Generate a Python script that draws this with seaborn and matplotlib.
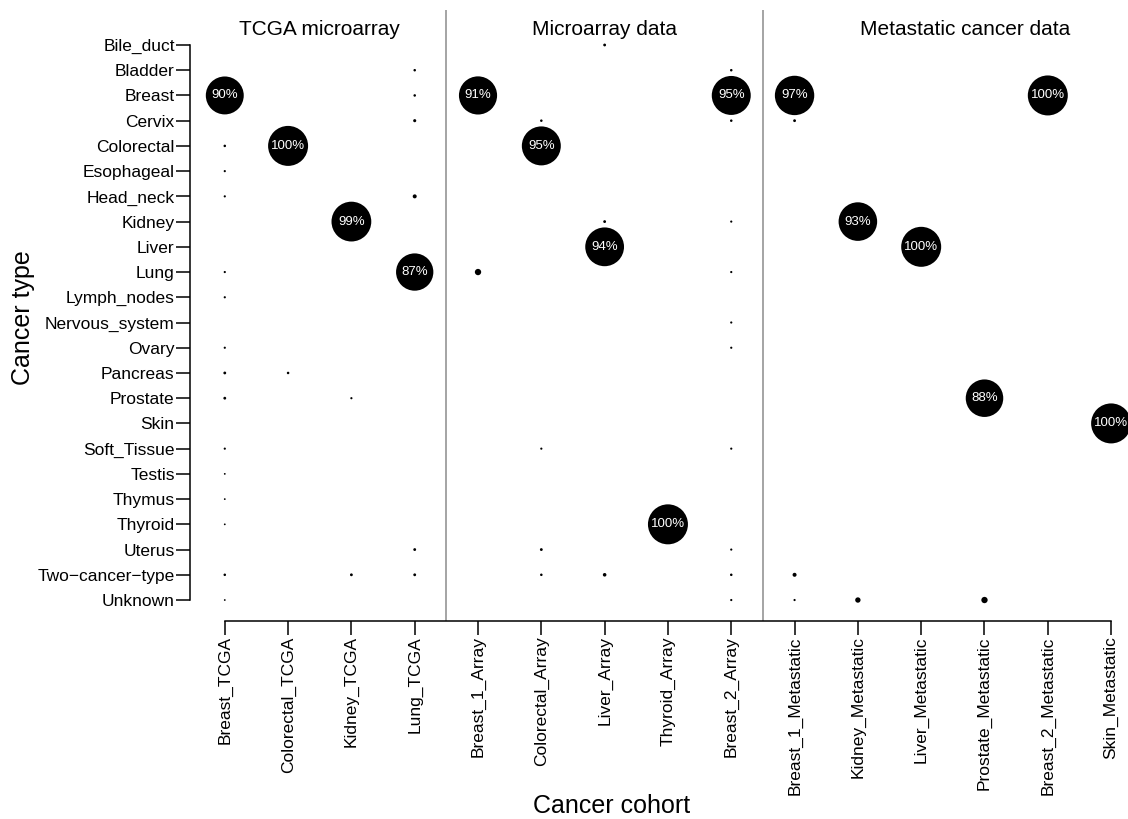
import matplotlib
matplotlib.use("Agg")
import matplotlib.pyplot as plt
import seaborn as sns
import pandas as pd

# categories
cohorts = ["Breast_TCGA", "Colorectal_TCGA", "Kidney_TCGA", "Lung_TCGA",
           "Breast_1_Array", "Colorectal_Array", "Liver_Array", "Thyroid_Array", "Breast_2_Array",
           "Breast_1_Metastatic", "Kidney_Metastatic", "Liver_Metastatic",
           "Prostate_Metastatic", "Breast_2_Metastatic", "Skin_Metastatic"]
cancer_types = ["Bile_duct", "Bladder", "Breast", "Cervix", "Colorectal", "Esophageal",
                "Head_neck", "Kidney", "Liver", "Lung", "Lymph_nodes", "Nervous_system",
                "Ovary", "Pancreas", "Prostate", "Skin", "Soft_Tissue", "Testis", "Thymus",
                "Thyroid", "Uterus", "Two\u2212cancer\u2212type", "Unknown"]
group_titles = ["TCGA microarray", "Microarray data", "Metastatic cancer data"]
group_sizes = [4, 5, 6]

TWO = "Two\u2212cancer\u2212type"

# per-cohort predictions: (cancer type, percent of samples)
breast_tcga = [("Breast", 90), ("Colorectal", 0.4), ("Esophageal", 0.3), ("Head_neck", 0.3),
               ("Lung", 0.3), ("Lymph_nodes", 0.3), ("Ovary", 0.3), ("Pancreas", 0.5),
               ("Prostate", 0.5), ("Soft_Tissue", 0.3), ("Testis", 0.2), ("Thymus", 0.2),
               ("Thyroid", 0.2), (TWO, 0.4), ("Unknown", 0.2)]
colorectal_tcga = [("Colorectal", 100), ("Pancreas", 0.4)]
kidney_tcga = [("Kidney", 99), ("Prostate", 0.3), (TWO, 0.5)]
lung_tcga = [("Bladder", 0.4), ("Breast", 0.4), ("Cervix", 0.6), ("Head_neck", 1.0),
             ("Lung", 87), ("Uterus", 0.5), (TWO, 0.5)]
breast_1_array = [("Breast", 91), ("Lung", 2.5)]
colorectal_array = [("Cervix", 0.4), ("Colorectal", 95), ("Soft_Tissue", 0.3),
                    ("Uterus", 0.5), (TWO, 0.4)]
liver_array = [("Bile_duct", 0.5), ("Kidney", 0.5), ("Liver", 94), (TWO, 0.8)]
thyroid_array = [("Thyroid", 100)]
breast_2_array = [("Bladder", 0.4), ("Breast", 95), ("Cervix", 0.4), ("Kidney", 0.3),
                  ("Lung", 0.3), ("Nervous_system", 0.3), ("Ovary", 0.3), ("Soft_Tissue", 0.3),
                  ("Uterus", 0.3), (TWO, 0.4), ("Unknown", 0.3)]
breast_1_met = [("Breast", 97), ("Cervix", 0.5), (TWO, 1.0), ("Unknown", 0.3)]
kidney_met = [("Kidney", 93), ("Unknown", 1.8)]
liver_met = [("Liver", 100)]
prostate_met = [("Prostate", 88), ("Unknown", 2.5)]
breast_2_met = [("Breast", 100)]
skin_met = [("Skin", 100)]

cohort_values = [breast_tcga, colorectal_tcga, kidney_tcga, lung_tcga,
                 breast_1_array, colorectal_array, liver_array, thyroid_array, breast_2_array,
                 breast_1_met, kidney_met, liver_met, prostate_met, breast_2_met, skin_met]

rows = []
for cohort, vals in zip(cohorts, cohort_values):
    for ctype, pct in vals:
        rows.append({"cohort": cohort, "ctype": ctype, "pct": pct})
df = pd.DataFrame(rows)
df["x"] = pd.Categorical(df["cohort"], categories=cohorts).codes
df["y"] = pd.Categorical(df["ctype"], categories=cancer_types).codes

sns.set_theme(style="white")
plt.rcParams["font.family"] = ["Liberation Sans", "DejaVu Sans"]
plt.rcParams["text.color"] = "black"

fig = plt.figure(figsize=(11.28, 8.19), dpi=100)
ax = fig.add_axes([0.1684, 0.2418, 0.8475, 0.746])

sns.scatterplot(data=df, x="x", y="y", size="pct", sizes=(0, 829), size_norm=(0, 100),
                color="black", linewidth=0, legend=False, ax=ax, clip_on=False)

# percentage labels on the big circles
for _, r in df[df["pct"] >= 50].iterrows():
    ax.text(r["x"], r["y"], f"{r['pct']:.0f}%", color="white", fontsize=9.5,
            ha="center", va="center")

# group separators and titles
start = 0
title_x = [1.5, 6.0, 11.7]
for size, title, tx in zip(group_sizes, group_titles, title_x):
    if start > 0:
        ax.axvline(start - 0.5, color="#8c8c8c", lw=1.1)
    ax.text(tx, -0.6, title, ha="center", va="center", fontsize=15, color="black")
    start += size

ax.set_xlim(-0.55, 14.55)
ax.set_ylim(22.83, -1.387)
ax.set_xticks(range(len(cohorts)))
ax.set_xticklabels(cohorts, rotation=90)
ax.set_yticks(range(len(cancer_types)))
ax.set_yticklabels(cancer_types)
ax.set_xlabel("")
ax.set_ylabel("")

for side in ["top", "right"]:
    ax.spines[side].set_visible(False)
ax.spines["left"].set_bounds(0, len(cancer_types) - 1)
ax.spines["bottom"].set_bounds(0, len(cohorts) - 1)
for side in ["left", "bottom"]:
    ax.spines[side].set_color("black")
    ax.spines[side].set_linewidth(1.1)
ax.tick_params(direction="out", length=10, width=1.1, color="black",
               labelsize=12.5, labelcolor="black", pad=1,
               left=True, bottom=True)

fig.text(0.5426, 0.016, "Cancer cohort", ha="center", va="center", fontsize=18, color="black")
fig.text(0.0204, 0.612, "Cancer type", ha="center", va="center", fontsize=18, rotation=90,
         color="black")

fig.savefig("out.png", dpi=100)
